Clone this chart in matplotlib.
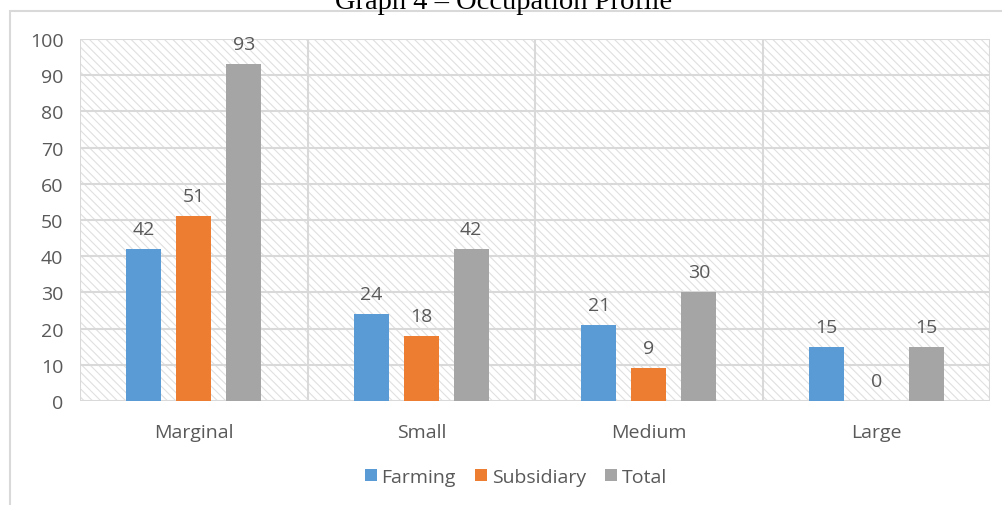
import matplotlib
matplotlib.use("Agg")
import matplotlib.pyplot as plt
from matplotlib.patches import Rectangle
import numpy as np

# data
categories = ["Marginal", "Small", "Medium", "Large"]
farming = [42, 24, 21, 15]
subsidiary = [51, 18, 9, 0]
total = [93, 42, 30, 15]
series_names = ["Farming", "Subsidiary", "Total"]
series_colors = ["#5b9bd5", "#ed7d31", "#a5a5a5"]

GRID = "#d9d9d9"
TEXT = "#595959"

plt.rcParams["font.family"] = ["Open Sans", "DejaVu Sans"]
plt.rcParams["hatch.linewidth"] = 0.8

fig = plt.figure(figsize=(10.02, 5.06), dpi=100)

# outer chart frame
fig.patches.append(Rectangle((10 / 1002, -0.01), 1.0, 1 - 12 / 506 + 0.01,
                             transform=fig.transFigure, fill=False,
                             edgecolor=GRID, linewidth=1.5))

# title, its top is cut off in the source image
fig.text(0.503, 1 - 9 / 506, "Graph 4 \u2013 Occupation Profile", ha="center", va="baseline",
         fontsize=20.5, family=["Liberation Serif", "DejaVu Serif"], color="black")

ax = fig.add_axes([80 / 1002, 104 / 506, 910 / 1002, 362 / 506])
ax.set_xlim(-0.5, len(categories) - 0.5)
ax.set_ylim(0, 100)

# hatched plot background
ax.add_patch(Rectangle((0, 0), 1, 1, transform=ax.transAxes, facecolor="white",
                       edgecolor="#e0e0e0", hatch="\\\\\\\\", linewidth=0, zorder=0))

x = np.arange(len(categories))
offset = 0.22
width = 0.154
for i, (vals, color) in enumerate(zip([farming, subsidiary, total], series_colors)):
    pos = x + (i - 1) * offset
    ax.bar(pos, vals, width, color=color, label=series_names[i], zorder=3)
    for p, v in zip(pos, vals):
        ax.annotate(str(v), (p, v), xytext=(0, 8), textcoords="offset points",
                    ha="center", va="bottom", fontsize=14, color=TEXT)

# gridlines
for y in range(0, 101, 10):
    ax.axhline(y, color=GRID, linewidth=1.5, zorder=1)
for b in np.arange(-0.5, len(categories), 1.0):
    ax.axvline(b, color=GRID, linewidth=1.5, zorder=1)

for s in ax.spines.values():
    s.set_visible(False)

ax.set_yticks(range(0, 101, 10))
ax.set_xticks(x)
ax.set_xticklabels(categories)
ax.tick_params(axis="both", length=0, labelsize=14, colors=TEXT)
ax.tick_params(axis="x", pad=16)
ax.tick_params(axis="y", pad=12)

leg = fig.legend(loc="center", bbox_to_anchor=(516 / 1002, 1 - 478 / 506), ncol=3,
                 frameon=False, fontsize=14, handlelength=0.6, handleheight=0.6,
                 handletextpad=0.25, columnspacing=1.0)
for t in leg.get_texts():
    t.set_color(TEXT)

fig.savefig("out.png", dpi=100)
